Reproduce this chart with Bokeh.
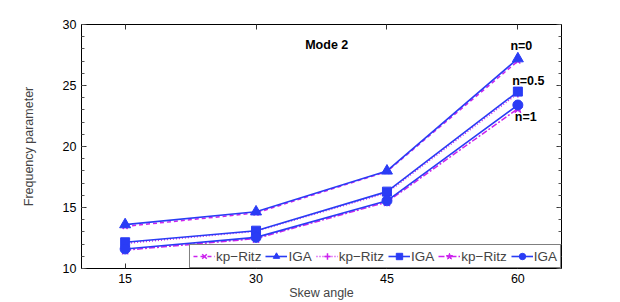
from bokeh.plotting import figure
from bokeh.models import (Range1d, FixedTicker, LinearAxis, Legend, LegendItem, Label)
from bokeh.embed import file_html
from bokeh.resources import INLINE

# ---- data ----
skew = [15, 30, 45, 60]
kp_n0 = [13.45, 14.55, 17.95, 27.0]
iga_n0 = [13.6, 14.65, 18.0, 27.2]
kp_n05 = [12.05, 13.05, 16.2, 24.35]
iga_n05 = [12.15, 13.1, 16.3, 24.5]
kp_n1 = [11.5, 12.45, 15.45, 23.1]
iga_n1 = [11.6, 12.55, 15.55, 23.4]
x_ticks = [15, 30, 45, 60]
y_ticks = [10, 15, 20, 25, 30]
y_minor = list(range(10, 31))
annotations = [("Mode 2", 38.1, 28.3), ("n=0", 60.4, 28.2), ("n=0.5", 61.2, 25.4), ("n=1", 60.9, 22.4)]

BLUE = "#2a3cf5"
MAG = "#cc22ee"
FONT = "Liberation Sans"

p = figure(width=612, height=302, output_backend="svg", toolbar_location=None,
           x_range=Range1d(10, 65), y_range=Range1d(10, 30),
           min_border_left=81, min_border_right=51, min_border_top=24, min_border_bottom=34)
p.xgrid.visible = False
p.ygrid.visible = False
p.outline_line_color = "black"
p.background_fill_color = "white"

def style_axis(ax, labels=True):
    ax.axis_line_color = "black"
    ax.major_tick_in = 5
    ax.major_tick_out = 0
    ax.minor_tick_in = 3
    ax.minor_tick_out = 0
    ax.major_tick_line_color = "#333333"
    ax.minor_tick_line_color = "#555555"
    ax.major_label_text_font = FONT
    ax.major_label_text_font_size = "12.5px"
    ax.major_label_text_color = "black"
    ax.major_label_standoff = 5 if labels else 0

xa = p.xaxis[0]
xa.ticker = FixedTicker(ticks=x_ticks, minor_ticks=[])
style_axis(xa)
xa.axis_label = "Skew angle"
xa.axis_label_text_font = FONT
xa.axis_label_text_font_style = "normal"
xa.axis_label_text_font_size = "12.5px"
xa.axis_label_standoff = 0

ya = p.yaxis[0]
ya.ticker = FixedTicker(ticks=y_ticks, minor_ticks=y_minor)
style_axis(ya)
ya.axis_label = "Frequency parameter"
ya.axis_label_text_font = FONT
ya.axis_label_text_font_style = "normal"
ya.axis_label_text_font_size = "12.5px"
ya.axis_label_standoff = 24

top = LinearAxis(ticker=FixedTicker(ticks=x_ticks, minor_ticks=[]),
                 major_label_overrides={t: "" for t in x_ticks})
style_axis(top, labels=False)
p.add_layout(top, "above")
right = LinearAxis(ticker=FixedTicker(ticks=y_ticks, minor_ticks=y_minor),
                   major_label_overrides={t: "" for t in y_ticks})
style_axis(right, labels=False)
p.add_layout(right, "right")

# n = 0
r1 = p.line(skew, kp_n0, line_color=MAG, line_width=1.5, line_dash="4 3")
r1m = p.scatter(skew, kp_n0, marker="x", size=7, line_color=MAG, line_width=1.5)
r2 = p.line(skew, iga_n0, line_color=BLUE, line_width=1.6)
r2m = p.scatter(skew, iga_n0, marker="triangle", size=11, fill_color=BLUE, line_color=BLUE)
# n = 0.5
r3 = p.line(skew, kp_n05, line_color=MAG, line_width=1.5, line_dash="1 2")
r3m = p.scatter(skew, kp_n05, marker="cross", size=8, line_color=MAG, line_width=1.5)
r4 = p.line(skew, iga_n05, line_color=BLUE, line_width=1.6)
r4m = p.scatter(skew, iga_n05, marker="square", size=9, fill_color=BLUE, line_color=BLUE)
# n = 1
r5 = p.line(skew, kp_n1, line_color=MAG, line_width=1.5, line_dash="6 2 2 2")
r5m = p.scatter(skew, kp_n1, marker="star", size=10, fill_color=MAG, line_color=MAG)
r6 = p.line(skew, iga_n1, line_color=BLUE, line_width=1.6)
r6m = p.scatter(skew, iga_n1, marker="circle", size=10, fill_color=BLUE, line_color=BLUE)

items = [
    LegendItem(label="kp\u2212Ritz", renderers=[r1, r1m]),
    LegendItem(label="IGA", renderers=[r2, r2m]),
    LegendItem(label="kp\u2212Ritz", renderers=[r3, r3m]),
    LegendItem(label="IGA", renderers=[r4, r4m]),
    LegendItem(label="kp\u2212Ritz", renderers=[r5, r5m]),
    LegendItem(label="IGA", renderers=[r6, r6m]),
]
legend = Legend(items=items, orientation="horizontal", location="bottom_right",
                margin=0, padding=3, spacing=4, label_standoff=1,
                glyph_width=22, glyph_height=16, label_height=16,
                label_text_font=FONT, label_text_font_size="13.5px",
                border_line_color="black", border_line_width=1,
                background_fill_color="white", background_fill_alpha=1.0)
p.add_layout(legend, "center")

for txt, x, y in annotations:
    p.add_layout(Label(x=x, y=y, text=txt, text_font=FONT, text_font_size="12.5px",
                       text_font_style="bold", text_align="center", text_baseline="middle",
                       text_color="black"))

open("out.html", "w").write(file_html(p, INLINE))
